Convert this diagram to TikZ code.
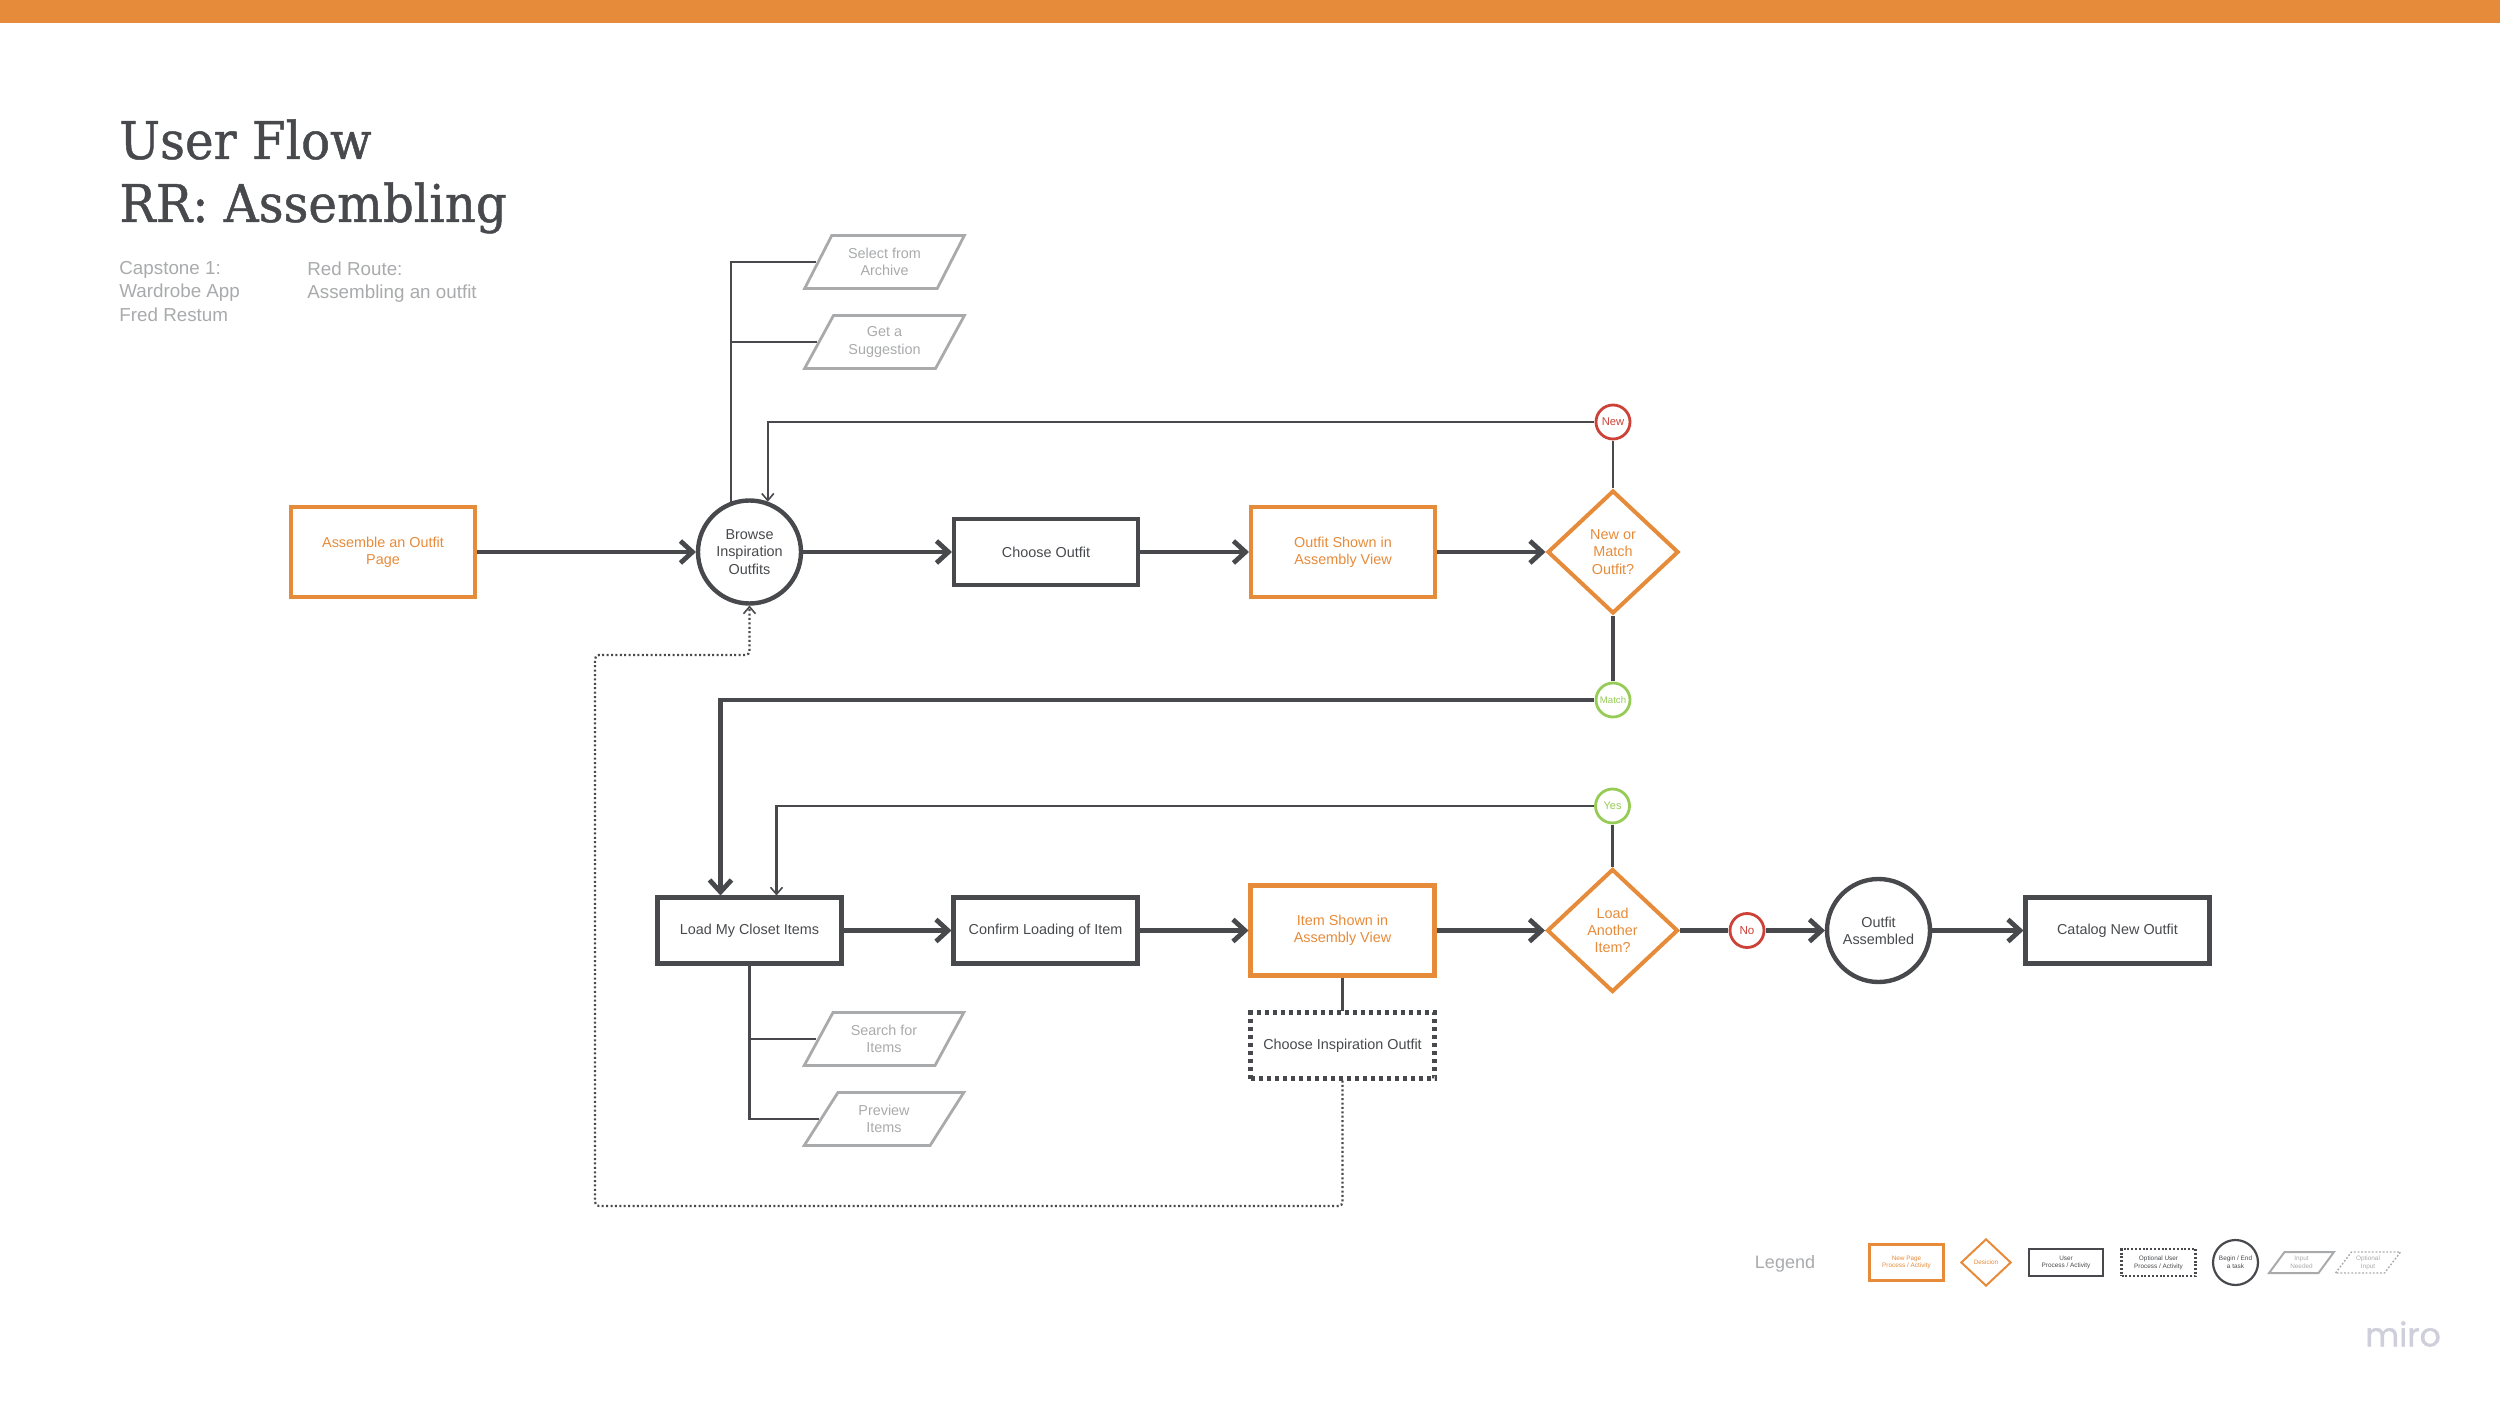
\documentclass[tikz,border=0pt]{standalone}
\usepackage{fontspec}
\setmainfont{Liberation Sans}
\newfontfamily\slabfont[FakeStretch=0.93, FakeBold=0.9]{DejaVu Serif}
\newfontfamily\logofont[FakeBold=1.2]{Poppins}
\usetikzlibrary{calc, positioning, arrows.meta, shapes}

\definecolor{flowDark}{HTML}{47494C}
\definecolor{flowOrange}{HTML}{E68B3A}
\definecolor{flowGray}{HTML}{A9AAAC}
\definecolor{flowRed}{HTML}{CC4238}
\definecolor{flowGreen}{HTML}{96CC55}
\definecolor{flowLogo}{HTML}{CFCFDB}

\newcommand{\boxfont}{\fontsize{7.2}{8.6}\selectfont}
\newcommand{\legendfont}{\fontsize{3.2}{3.85}\selectfont}

\tikzset{
	shapebase/.style={align=center, inner sep=0pt, outer sep=1pt, font=\boxfont},
	pagebox/.style={shapebase, rectangle, draw=flowOrange, text=flowOrange, line width=2.2pt, minimum width=92pt, minimum height=45pt},
	userbox/.style={shapebase, rectangle, draw=flowDark, text=flowDark, line width=2.2pt, minimum width=92pt, minimum height=33pt},
	optbox/.style={userbox, dash pattern=on 2pt off 2pt},
	endcircle/.style={shapebase, circle, draw=flowDark, text=flowDark, line width=2.2pt, minimum size=51.5pt},
	decision/.style={shapebase, diamond, draw=flowOrange, text=flowOrange, line width=2pt, minimum width=65.5pt, minimum height=61.5pt},
	inputbox/.style={shapebase, trapezium, trapezium stretches=true, trapezium left angle=56, trapezium right angle=124, draw=flowGray, text=flowGray, line width=1.4pt, minimum width=80pt, minimum height=26.5pt},
	tagred/.style={shapebase, circle, draw=flowRed, text=flowRed, fill=white, line width=1.4pt, minimum size=17pt},
	taggreen/.style={shapebase, circle, draw=flowGreen, text=flowGreen, fill=white, line width=1.4pt, minimum size=17pt},
	thickline/.style={draw=flowDark, line width=2.4pt, >={Straight Barb[length=6pt,width=11pt,line width=2.4pt]}},
	thinline/.style={draw=flowDark, line width=1.1pt, >={Straight Barb[length=3.5pt,width=6pt,line width=.8pt]}},
	loopline/.style={thinline, dash pattern=on 1pt off 1.2pt, rounded corners=2pt},
	subtext/.style={align=left, anchor=north west, inner sep=0pt, text=flowGray, font=\fontsize{9.4}{11.7}\selectfont}
}

\begin{document}
\begin{tikzpicture}[x=0.5pt, y=-0.5pt]
		\useasboundingbox (0,0) rectangle (2500,1406);
		\fill[flowOrange] (0,0) rectangle (2500,23);

		% nodes - for heading %
		\node[anchor=base west, inner sep=0pt, text=flowDark, font=\slabfont\fontsize{26}{31.5}\selectfont] (title1) at (119,159) {User Flow};
		\node[anchor=base west, inner sep=0pt, text=flowDark, font=\slabfont\fontsize{26}{31.5}\selectfont] (title2) at (119,222) {RR: Assembling};
		\node[subtext] (project) at (119,261) {Capstone 1:\\Wardrobe App\\Fred Restum};
		\node[subtext] (route) at (307,261) {Red Route:\\Assembling an outfit};

		% nodes - for upper row %
		\node[pagebox] (start) at (383,552) {Assemble an Outfit\\Page};
		\node[endcircle, right of = start, node distance=183.25pt] (browse) {Browse\\Inspiration\\Outfits};
		\node[userbox, right of = browse, node distance=148.25pt] (choose) {Choose Outfit};
		\node[pagebox, right of = choose, node distance=148.5pt] (shown) {Outfit Shown in\\Assembly View};
		\node[decision, right of = shown, node distance=135pt] (newmatch) {New or\\Match\\Outfit?};
		\node[tagred, above of = newmatch, node distance=65pt, font=\fontsize{5.6}{6}\selectfont] (tagnew) {New};
		\node[taggreen, below of = newmatch, node distance=74pt, font=\fontsize{4.8}{6}\selectfont] (tagmatch) {Match};
		\node[inputbox, above of = browse, node distance=145pt, xshift=67.5pt] (archive) {Select from\\Archive};
		\node[inputbox, below of = archive, node distance=40pt] (suggest) {Get a\\Suggestion};

		% nodes - for lower row %
		\node[userbox, below of = browse, node distance=189.25pt] (closet) {Load My Closet Items};
		\node[userbox, right of = closet, node distance=148pt] (confirm) {Confirm Loading of Item};
		\node[pagebox, right of = confirm, node distance=148.5pt] (item) {Item Shown in\\Assembly View};
		\node[decision, right of = item, node distance=135pt] (another) {Load\\Another\\Item?};
		\node[taggreen, above of = another, node distance=62.25pt, font=\fontsize{5.5}{6}\selectfont] (tagyes) {Yes};
		\node[tagred, right of = another, node distance=67.25pt, font=\fontsize{5.8}{6}\selectfont] (tagno) {No};
		\node[endcircle, right of = tagno, node distance=65.75pt] (done) {Outfit\\Assembled};
		\node[userbox, right of = done, node distance=119.5pt] (catalog) {Catalog New Outfit};
		\node[optbox, below of = item, node distance=57.5pt] (inspire) {Choose Inspiration Outfit};
		\node[inputbox, below of = closet, node distance=54.25pt, xshift=67.25pt] (search) {Search for\\Items};
		\node[inputbox, below of = search, node distance=40pt] (preview) {Preview\\Items};
		\coordinate (loopbottom) at (595,1206);
		\coordinate (looptop) at (595,655);

		% nodes - for legend %
		\node[anchor=center, inner sep=0pt, text=flowGray, font=\fontsize{9}{10}\selectfont] (legend) at (1785,1264) {Legend};
		\node[pagebox, line width=1.1pt, minimum width=37pt, minimum height=18pt, font=\legendfont] (lpage) at (1906.5,1262.5) {New Page\\Process / Activity};
		\node[decision, right of = lpage, node distance=39.75pt, line width=1pt, minimum width=25.5pt, minimum height=24pt, font=\legendfont] (ldecide) {Desicion};
		\node[userbox, right of = ldecide, node distance=40pt, line width=1.1pt, minimum width=37pt, minimum height=13.5pt, font=\legendfont] (luser) {User\\Process / Activity};
		\node[optbox, right of = luser, node distance=46.25pt, line width=1.1pt, minimum width=37pt, minimum height=13.5pt, dash pattern=on 1pt off .9pt, font=\legendfont] (lopt) {Optional User\\Process / Activity};
		\node[endcircle, right of = lopt, node distance=38.5pt, line width=1.1pt, minimum size=22.5pt, font=\legendfont] (lbegin) {Begin / End\\a task};
		\node[inputbox, right of = lbegin, node distance=33pt, line width=1pt, minimum width=32.5pt, minimum height=10.5pt, trapezium left angle=50, trapezium right angle=130, font=\legendfont] (linput) {Input\\Needed};
		\node[inputbox, right of = linput, node distance=33.25pt, line width=.7pt, minimum width=32.5pt, minimum height=10.5pt, trapezium left angle=50, trapezium right angle=130, dash pattern=on .9pt off .9pt, font=\legendfont] (lopinput) {Optional\\Input};
		\node[anchor=center, inner sep=0pt, text=flowLogo, font=\logofont\fontsize{16.5}{18}\selectfont] (logo) at (2403,1334) {miro};

		% edges - upper row %
		\draw[->, thickline] (start) -- (browse);
		\draw[->, thickline] (browse) -- (choose);
		\draw[->, thickline] (choose) -- (shown);
		\draw[->, thickline] (shown) -- (newmatch);
		\draw[thinline] (newmatch) -- (tagnew);
		\draw[->, thinline] (tagnew) -| (browse.70);
		\draw[thinline] (browse.110) |- (archive.west);
		\draw[thinline] (browse.110 |- suggest.west) -- (suggest.west);
		\draw[thickline] (newmatch) -- (tagmatch);
		\draw[->, thickline] (tagmatch) -| ($(closet.north)+(-29,0)$);

		% edges - lower row %
		\draw[->, thickline] (closet) -- (confirm);
		\draw[->, thickline] (confirm) -- (item);
		\draw[->, thickline] (item) -- (another);
		\draw[thickline] (another) -- (tagno);
		\draw[->, thickline] (tagno) -- (done);
		\draw[->, thickline] (done) -- (catalog);
		\draw[thinline] (another) -- (tagyes);
		\draw[->, thinline] (tagyes) -| ($(closet.north)+(27,0)$);
		\draw[thinline] (item) -- (inspire);
		\draw[thinline] (closet.south) |- (preview.west);
		\draw[thinline] (closet.south |- search.west) -- (search.west);
		\draw[->, loopline] (inspire.south) |- (loopbottom) -- (looptop) -| (browse.south);

\end{tikzpicture}
\end{document}
